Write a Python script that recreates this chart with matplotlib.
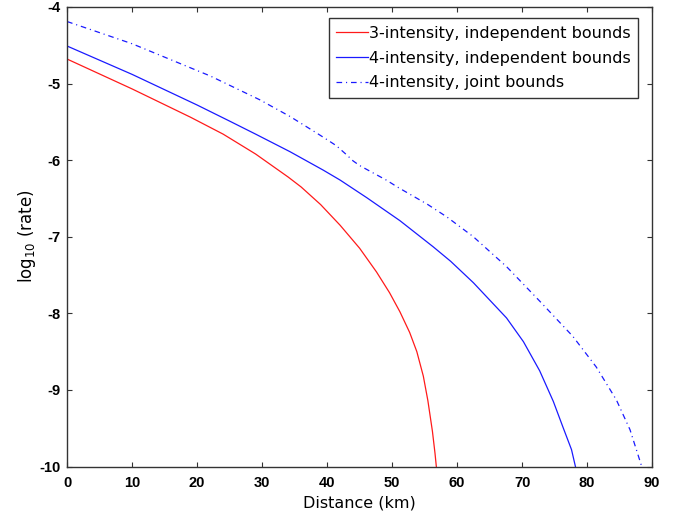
import numpy as np
import matplotlib
matplotlib.use("Agg")
import matplotlib.pyplot as plt

plt.rcParams['font.family'] = ['DejaVu Sans']
plt.rcParams['axes.unicode_minus'] = False
plt.rcParams['mathtext.default'] = 'regular'

# values (distance in km, log10 of rate)
red_km = [0, 10, 19, 24, 29, 34, 36, 39, 42, 45, 47.6, 49.6, 51.2, 52.7, 53.8,
          54.8, 55.5, 56.2, 56.6, 56.8]
red_rate = [-4.68, -5.07, -5.44, -5.66, -5.92, -6.22, -6.35, -6.58, -6.85, -7.15,
            -7.46, -7.73, -7.98, -8.25, -8.50, -8.82, -9.14, -9.54, -9.83, -10.0]

blue_km = [0, 10, 20, 25, 29, 34.3, 39.4, 42, 46.1, 51.2, 56.3, 59, 62.5, 67.6,
           70.2, 72.7, 74.8, 76.3, 77.6, 78.2]
blue_rate = [-4.51, -4.88, -5.28, -5.49, -5.66, -5.89, -6.13, -6.26, -6.49, -6.79,
             -7.13, -7.32, -7.60, -8.06, -8.37, -8.75, -9.15, -9.49, -9.78, -10.0]

joint_km = [0, 10, 22, 29.6, 34.3, 37.9, 39.4, 41.4, 43.0, 44.0, 45.0, 46.5, 49.1,
            51, 55.5, 58.4, 62.5, 67.6, 72.7, 77.8, 81.4, 84.5, 86.6, 88.4]
joint_rate = [-4.19, -4.48, -4.90, -5.21, -5.43, -5.62, -5.70, -5.81, -5.93, -6.01,
              -6.07, -6.14, -6.26, -6.36, -6.58, -6.74, -7.00, -7.39, -7.84, -8.30,
              -8.70, -9.13, -9.52, -10.0]

labels = ["3-intensity, independent bounds",
          "4-intensity, independent bounds",
          "4-intensity, joint bounds"]

fig = plt.figure(figsize=(6.85, 5.18), dpi=100)
ax = fig.add_axes([0.098, 0.0994, 0.854, 0.8871])

ax.plot(red_km, red_rate, color="#ff1a1a", lw=0.9, label=labels[0])
ax.plot(blue_km, blue_rate, color="#1a1aff", lw=0.9, label=labels[1])
ax.plot(joint_km, joint_rate, color="#1a1aff", lw=0.9, label=labels[2],
        dashes=(4.5, 3.1, 0.9, 3.1))

ax.set_xlim(0, 90)
ax.set_ylim(-10, -4)
ax.set_xticks(np.arange(0, 91, 10))
ax.set_yticks(np.arange(-10, -3, 1))

ax.tick_params(direction="in", length=3.6, width=0.8, color="#333333",
               top=True, right=True)
ax.tick_params(axis="x", pad=7)
ax.tick_params(axis="y", pad=5)
for lab in ax.get_xticklabels() + ax.get_yticklabels():
    lab.set_fontweight("bold")
    lab.set_fontfamily("Liberation Sans")
    lab.set_fontsize(10.5)
for sp in ax.spines.values():
    sp.set_color("#333333")
    sp.set_linewidth(1.0)

ax.set_xlabel("Distance (km)", fontsize=11.5)
ax.set_ylabel(r"log$_{10}$ (rate)", fontsize=12, labelpad=1)

leg = ax.legend(loc="upper right", bbox_to_anchor=(0.9766, 0.975),
                prop={"size": 11.5}, frameon=True, fancybox=False, framealpha=1,
                edgecolor="#333333", handlelength=2.0, handletextpad=0.1,
                labelspacing=0.62, borderpad=0.45, borderaxespad=0)
leg.get_frame().set_linewidth(1.0)

fig.savefig("out.png", dpi=100)
